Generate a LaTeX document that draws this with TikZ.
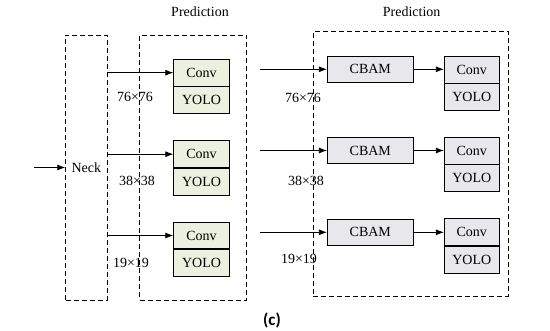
\documentclass[tikz,border=0pt]{standalone}
\usepackage{fontspec}
\setmainfont{Liberation Serif}
\newfontfamily\capfont{Carlito}
\usepackage{tikz}
\usetikzlibrary{arrows.meta,positioning}
\definecolor{predgreen}{RGB}{235,241,222}
\definecolor{predgray}{RGB}{231,231,236}

\begin{document}
\begin{tikzpicture}[x=1pt,y=-1pt,node distance=0pt,font=\fontsize{14}{16}\selectfont,>={Latex[length=8pt,width=6pt]},
  dbox/.style={draw,dashed,thick,dash pattern=on 5pt off 3pt,inner sep=0pt},
  gbox/.style={draw,thick,fill=predgreen,minimum width=55.6pt,minimum height=26.7pt,inner sep=0pt},
  cbox/.style={draw,thick,fill=predgray,minimum width=55pt,minimum height=27pt,inner sep=0pt},
  abox/.style={draw,thick,fill=predgray,minimum width=86pt,minimum height=26.7pt,inner sep=0pt},
  arr/.style={->,thick}]
\useasboundingbox (0,0) rectangle (550,331);
\node[dbox,minimum width=41.3pt,minimum height=265pt] (neck) at (86.3,167.5) {Neck};
\node[dbox,minimum width=107pt,minimum height=265pt] (predA) at (193.2,167.5) {};
\node[dbox,minimum width=195pt,minimum height=264.3pt] (predB) at (410.8,163.8) {};
\node (labA) at (200,12) {Prediction};
\node (labB) at (411.7,12) {Prediction};
\coordinate (input) at (34,167.5);
\draw[arr] (input)--(neck.west);
% first prediction head
\node[gbox] (convA1) at (201.5,72.7) {Conv};
\node[gbox,below=of convA1] (yoloA1) {YOLO};
\node[gbox] (convA2) at (201.5,154.2) {Conv};
\node[gbox,below=of convA2] (yoloA2) {YOLO};
\node[gbox] (convA3) at (201.5,235.5) {Conv};
\node[gbox,below=of convA3] (yoloA3) {YOLO};
\draw[arr] (neck.east |- convA1.west)--(convA1.west);
\draw[arr] (neck.east |- convA2.west)--(convA2.west);
\draw[arr] (neck.east |- convA3.west)--(convA3.west);
\node (sizeA1) at (135,97) {76×76};
\node (sizeA2) at (137,181) {38×38};
\node (sizeA3) at (131,263) {19×19};
% second prediction head with CBAM
\node[abox] (cbam1) at (370.3,69.3) {CBAM};
\node[abox] (cbam2) at (370.3,150.5) {CBAM};
\node[abox] (cbam3) at (370.3,232.3) {CBAM};
\node[cbox] (convB1) at (471.8,69.5) {Conv};
\node[cbox,below=of convB1] (yoloB1) {YOLO};
\node[cbox] (convB2) at (471.8,150.5) {Conv};
\node[cbox,below=of convB2] (yoloB2) {YOLO};
\node[cbox] (convB3) at (471.8,232.3) {Conv};
\node[cbox,below=of convB3] (yoloB3) {YOLO};
\coordinate (from1) at (260,69.3);
\coordinate (from2) at (260,150.5);
\coordinate (from3) at (260,232.3);
\draw[arr] (from1)--(cbam1.west); \draw[arr] (cbam1.east)--(convB1.west |- cbam1.east);
\draw[arr] (from2)--(cbam2.west); \draw[arr] (cbam2.east)--(convB2.west |- cbam2.east);
\draw[arr] (from3)--(cbam3.west); \draw[arr] (cbam3.east)--(convB3.west |- cbam3.east);
\node (sizeB1) at (303,98) {76×76};
\node (sizeB2) at (306,181) {38×38};
\node (sizeB3) at (299,259) {19×19};
\node[font=\capfont\bfseries\fontsize{17}{19}\selectfont] (cap) at (272,320) {(c)};
\end{tikzpicture}
\end{document}
